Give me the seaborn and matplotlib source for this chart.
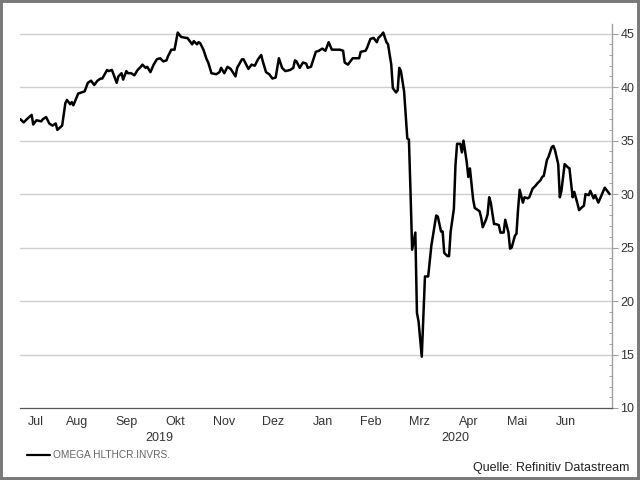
import matplotlib
matplotlib.use("Agg")
import matplotlib.pyplot as plt
import matplotlib.patches as patches
import matplotlib.transforms as mtransforms
import numpy as np
import pandas as pd
import seaborn as sns

# ---------------- data ----------------
start_date = "2019-07-12"
day_offsets = [0, 2, 4, 7, 8, 10, 13, 14, 16, 18, 20, 22, 23, 26, 28, 29, 31, 32, 33, 36,
               38, 40, 42, 44, 46, 48, 50, 51, 54, 55, 57, 60, 61, 63, 64, 66, 67, 69, 71, 73,
               75, 76, 78, 79, 81, 83, 85, 87, 89, 91, 92, 94, 96, 97, 98, 100, 103, 104, 107, 108,
               110, 111, 112, 114, 116, 117, 119, 122, 124, 125, 127, 129, 131, 134, 135, 138, 139, 142, 144, 146,
               148, 150, 151, 153, 155, 157, 159, 161, 163, 165, 168, 170, 171, 172, 174, 176, 178, 179, 181, 184,
               186, 188, 190, 192, 194, 197, 199, 201, 202, 204, 207, 209, 211, 212, 215, 216, 218, 220, 221, 222,
               223, 225, 226, 228, 229, 231, 232, 234, 235, 236, 237, 239, 240, 241, 242, 243, 244, 246, 247, 248,
               250, 252, 254, 256, 259, 260, 262, 263, 264, 266, 267, 268, 270, 271, 272, 274, 275, 276, 278, 279,
               280, 282, 283, 286, 287, 288, 290, 291, 292, 293, 295, 296, 298, 299, 301, 302, 304, 305, 306, 308,
               309, 310, 311, 313, 314, 316, 317, 319, 321, 322, 324, 325, 326, 328, 329, 331, 332, 333, 335, 336,
               337, 339, 341, 342, 344, 345, 347, 348, 350, 351, 352, 354, 355, 357, 358, 360, 362, 364, 366, 367]
prices = [37.0, 36.7, 37.0, 37.4, 36.5, 36.9, 36.8, 37.0, 37.2, 36.6, 36.4, 36.6, 36.0, 36.4, 38.5, 38.8, 38.4, 38.6, 38.3, 39.4,
          39.5, 39.6, 40.4, 40.6, 40.2, 40.6, 40.8, 40.8, 41.6, 41.5, 41.6, 40.4, 41.0, 41.3, 40.7, 41.5, 41.3, 41.3, 41.1, 41.6,
          41.9, 42.1, 41.8, 41.9, 41.4, 42.1, 42.6, 42.7, 42.4, 42.5, 42.9, 43.5, 43.5, 44.3, 45.1, 44.7, 44.6, 44.6, 44.0, 44.3,
          44.0, 44.2, 44.1, 43.5, 42.6, 42.3, 41.3, 41.2, 41.4, 41.8, 41.3, 41.9, 41.7, 41.0, 41.8, 42.6, 42.6, 41.7, 42.1, 42.0,
          42.6, 43.0, 42.4, 41.4, 41.2, 40.8, 40.9, 42.7, 41.8, 41.5, 41.6, 41.8, 42.5, 42.4, 41.8, 42.3, 42.2, 41.8, 41.9, 43.3,
          43.4, 43.6, 43.4, 44.2, 43.5, 43.5, 43.5, 43.4, 42.3, 42.1, 42.7, 42.7, 42.7, 43.3, 43.4, 43.7, 44.5, 44.6, 44.4, 44.2,
          44.6, 44.9, 45.1, 44.2, 44.0, 42.1, 39.9, 39.5, 39.7, 41.8, 41.5, 39.6, 37.4, 35.2, 35.1, 30.2, 24.8, 26.4, 18.9, 18.1,
          14.8, 22.3, 22.3, 25.2, 28.0, 27.9, 26.5, 26.5, 24.5, 24.2, 24.2, 26.5, 28.6, 32.7, 34.7, 34.7, 33.9, 35.0, 33.0, 31.6,
          32.4, 29.5, 28.7, 28.4, 27.8, 26.9, 27.6, 28.1, 29.7, 29.2, 27.2, 27.2, 27.1, 26.4, 26.4, 27.6, 26.4, 24.9, 25.0, 26.1,
          26.3, 28.6, 30.4, 29.2, 29.7, 29.6, 29.7, 30.5, 30.8, 31.0, 31.3, 31.6, 31.7, 33.2, 33.5, 34.4, 34.5, 34.1, 32.8, 29.7,
          30.3, 32.8, 32.5, 32.4, 29.7, 30.2, 29.1, 28.5, 28.8, 28.9, 30.0, 29.9, 30.3, 29.6, 29.9, 29.2, 29.9, 30.6, 30.2, 30.0]
series_name = "OMEGA HLTHCR.INVRS."
month_labels = ["Jul", "Aug", "Sep", "Okt", "Nov", "Dez", "Jan", "Feb", "Mrz", "Apr", "Mai", "Jun"]
year_labels = ["2019", "2020"]
y_ticks = [10, 15, 20, 25, 30, 35, 40, 45]
source_text = "Quelle: Refinitiv Datastream"

# ---------------- frame ----------------
dates = pd.Timestamp(start_date) + pd.to_timedelta(day_offsets, unit="D")
df = pd.DataFrame({"date": dates, "price": prices})

sns.set_style("white")
plt.rcParams["font.family"] = ["Liberation Sans", "DejaVu Sans"]

fig = plt.figure(figsize=(6.4, 4.8), dpi=100)
ax = fig.add_axes([20 / 640, 1 - 408 / 480, (612 - 20) / 640, (408 - 24) / 480])

sns.lineplot(data=df, x="date", y="price", ax=ax, color="black", lw=1.8)

x0 = pd.Timestamp(start_date) - pd.Timedelta(hours=6)
x1 = pd.Timestamp(start_date) + pd.Timedelta(days=368.5)
ax.set_xlim(x0, x1)
ax.set_ylim(10, 45.9)

# grid
for v in y_ticks[1:]:
    ax.axhline(v, color="#cfcfcf", lw=1.0, zorder=0)

# spines
for s in ["left", "top"]:
    ax.spines[s].set_visible(False)
ax.spines["right"].set_color("#a0a0a0")
ax.spines["right"].set_linewidth(1.0)
ax.spines["bottom"].set_color("#555555")
ax.spines["bottom"].set_linewidth(0.9)

# y axis on right
ax.yaxis.tick_right()
ax.set_yticks(y_ticks)
ax.set_yticks(np.arange(10, 46, 1), minor=True)
ax.tick_params(axis="y", which="major", direction="out", length=4, width=0.8,
               color="#a0a0a0", labelsize=9, labelcolor="#333333", pad=2, right=True, left=False)
ax.tick_params(axis="y", which="minor", direction="in", length=2.5, width=0.7,
               color="#a0a0a0", right=True, left=False)
ax.set_ylabel("")
ax.set_xlabel("")

# x axis: month boundaries as ticks, month names at mid-month
month_starts = pd.date_range("2019-08-01", "2020-07-01", freq="MS")
ax.set_xticks(month_starts)
ax.set_xticklabels([])
ax.tick_params(axis="x", which="major", direction="in", length=2.5, width=0.8, color="#888888")

mid_positions = []
bounds = [x0] + list(month_starts)
for i in range(12):
    a = max(bounds[i], x0)
    b = bounds[i + 1]
    mid_positions.append(a + (b - a) / 2)
ax.set_xticks(mid_positions, minor=True)
ax.set_xticklabels(month_labels, minor=True)
ax.tick_params(axis="x", which="minor", length=0, labelsize=9, labelcolor="#333333", pad=6)

trans = mtransforms.blended_transform_factory(ax.transData, ax.transAxes)
y2019_mid = x0 + (pd.Timestamp("2020-01-01") - x0) / 2
y2020_mid = pd.Timestamp("2020-01-01") + (x1 - pd.Timestamp("2020-01-01")) / 2
for lab, pos in zip(year_labels, [y2019_mid, y2020_mid]):
    ax.text(pos, -0.077, lab, transform=trans, ha="center", va="center",
            fontsize=9, color="#333333")

# legend
fig.add_artist(plt.Line2D([27 / 640, 50 / 640], [1 - 455 / 480, 1 - 455 / 480],
                          color="black", lw=1.6, transform=fig.transFigure))
fig.text(53 / 640, 1 - 455 / 480, series_name, ha="left", va="center",
         fontsize=7.3, color="#666666")

# source
fig.text(629 / 640, 1 - 468 / 480, source_text, ha="right", va="center",
         fontsize=9, color="#222222")

# outer frame
fig.add_artist(patches.Rectangle((0, 0), 1, 1, transform=fig.transFigure, fill=False,
                                 lw=4.3, ec="#7a7a7a"))

fig.savefig("out.png", dpi=100)
